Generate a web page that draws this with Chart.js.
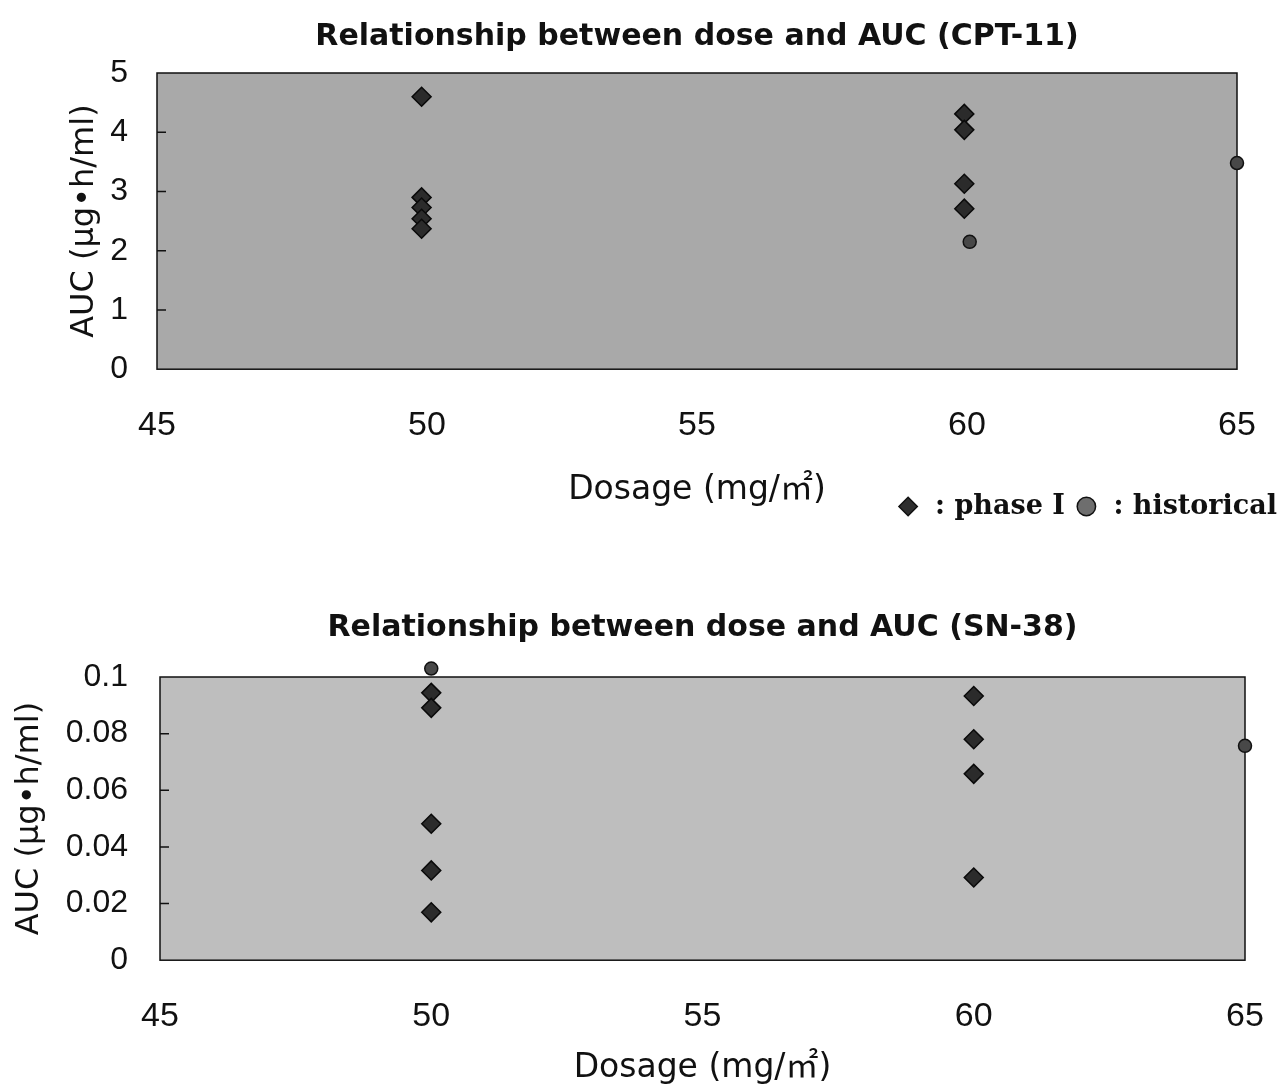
<!DOCTYPE html>
<html>
<head>
<meta charset="utf-8">
<script src="https://cdn.jsdelivr.net/npm/chart.js@4.4.1/dist/chart.umd.min.js"></script>
<style>
  html, body { margin: 0; padding: 0; background: #fff; }
  body { width: 1285px; height: 1085px; position: relative; overflow: hidden; }
  .box { position: absolute; left: 0; width: 1285px; }
</style>
</head>
<body>
<div class="box" style="top:0;height:545px"><canvas id="c1"></canvas></div>
<div class="box" style="top:545px;height:540px"><canvas id="c2"></canvas></div>
<script>
// ---- data ----
const xTicks = [45, 50, 55, 60, 65];
const cptPhaseDose = [49.9, 49.9, 49.9, 49.9, 49.9, 59.95, 59.95, 59.95, 59.95];
const cptPhaseAUC  = [4.6, 2.9, 2.73, 2.54, 2.37, 4.31, 4.04, 3.13, 2.71];
const cptHistDose  = [60.05, 65];
const cptHistAUC   = [2.15, 3.48];
const cptYTicks    = [0, 1, 2, 3, 4, 5];

const snPhaseDose  = [50, 50, 50, 50, 50, 60, 60, 60, 60];
const snPhaseAUC   = [0.0944, 0.0891, 0.0482, 0.0317, 0.0169, 0.0933, 0.078, 0.0658, 0.0292];
const snHistDose   = [50, 65];
const snHistAUC    = [0.103, 0.0757];
const snYTicks     = [0, 0.02, 0.04, 0.06, 0.08, 0.1];
const snYTickLabels = ['0', '0.02', '0.04', '0.06', '0.08', '0.1'];

const titles = ['Relationship between dose and AUC (CPT-11)', 'Relationship between dose and AUC (SN-38)'];
const yTitle = 'AUC (μg•h/ml)';
const xTitle = 'Dosage (mg/㎡)';
const legendLabels = [': phase Ⅰ', ': historical'];

const toPts = (xs, ys) => xs.map((x, i) => ({ x: x, y: ys[i] }));

const frame = {
  id: 'frame',
  beforeDatasetsDraw(chart) {
    const a = chart.chartArea, ctx = chart.ctx;
    ctx.save();
    ctx.fillStyle = chart.options.plugins.frame.bg;
    ctx.fillRect(a.left, a.top, a.right - a.left, a.bottom - a.top);
    ctx.strokeStyle = '#111';
    ctx.lineWidth = 1.5;
    ctx.strokeRect(a.left, a.top, a.right - a.left, a.bottom - a.top);
    const ys = chart.scales.y;
    ctx.beginPath();
    ys.ticks.forEach(t => {
      if (t.value <= ys.min || t.value >= ys.max) return;
      const p = ys.getPixelForValue(t.value);
      ctx.moveTo(a.left, p);
      ctx.lineTo(a.left + 9, p);
    });
    ctx.stroke();
    ctx.restore();
  }
};

// let markers that sit just outside the plot frame (as in the original) still be drawn
const overflow = {
  id: 'overflow',
  beforeDatasetDraw(chart) {
    const a = chart.chartArea;
    chart.$saved = { top: a.top, right: a.right };
    a.top -= 30; a.right += 30;
  },
  afterDatasetDraw(chart) {
    const a = chart.chartArea;
    a.top = chart.$saved.top; a.right = chart.$saved.right;
  }
};

function makeChart(id, o) {
  return new Chart(document.getElementById(id), {
    type: 'scatter',
    data: {
      datasets: [
        { label: legendLabels[0], data: toPts(o.pd, o.pa), pointStyle: 'rectRot', pointRadius: 9.5,
          backgroundColor: '#2b2b2b', borderColor: '#0a0a0a', borderWidth: 1.5, clip: false },
        { label: legendLabels[1], data: toPts(o.hd, o.ha), pointStyle: 'circle', pointRadius: 6.5,
          backgroundColor: '#484848', borderColor: '#111', borderWidth: 1.5, clip: false }
      ]
    },
    options: {
      responsive: true,
      maintainAspectRatio: false,
      animation: false,
      layout: { padding: { bottom: o.padBottom, left: 0, right: 0, top: 0 } },
      scales: {
        x: {
          type: 'linear', min: 45, max: 65,
          afterBuildTicks: s => { s.ticks = xTicks.map(v => ({ value: v })); },
          afterFit: s => { s.paddingRight = 0; s.paddingLeft = 0; },
          grid: { display: false, drawTicks: false },
          border: { display: false },
          ticks: { padding: 36, color: '#111', font: { family: 'Liberation Sans', size: 34 }, maxRotation: 0 },
          title: { display: true, text: xTitle, color: '#111',
                   font: { family: 'DejaVu Sans, Noto Sans CJK JP', size: 33, lineHeight: 1 },
                   padding: { top: o.xTitlePadTop, bottom: o.xTitlePadBottom } }
        },
        y: {
          type: 'linear', min: 0, max: o.ymax,
          afterBuildTicks: s => { s.ticks = o.yt.map(v => ({ value: v })); },
          afterFit: s => { s.width = o.left; },
          grid: { display: false, drawTicks: false },
          border: { display: false },
          ticks: { padding: o.yPad, color: '#111', font: { family: 'Liberation Sans', size: 32 },
                   callback: (v, i) => o.ytl[i] },
          title: { display: true, text: yTitle, color: '#111',
                   font: { family: 'DejaVu Sans', size: 32, lineHeight: 1 },
                   padding: { top: o.yTitlePad, bottom: 0 } }
        },
        yr: {
          type: 'linear', position: 'right', display: true,
          afterFit: s => { s.width = o.right; },
          grid: { display: false, drawTicks: false },
          border: { display: false },
          ticks: { display: false }
        }
      },
      plugins: {
        frame: { bg: o.bg },
        title: { display: true, text: o.title, color: '#111', fullSize: false,
                 font: { family: 'DejaVu Sans', size: 30, weight: 'bold', lineHeight: 1.2 },
                 padding: o.titlePad },
        legend: o.legend ? {
          display: true, position: 'bottom', align: 'end',
          labels: { usePointStyle: true, color: '#111', padding: 8, boxHeight: 13,
                    font: { family: 'DejaVu Serif', size: 27, weight: 'bold' },
                    generateLabels: chart => chart.data.datasets.map((d, i) => ({
                      text: d.label, pointStyle: d.pointStyle, datasetIndex: i,
                      fillStyle: i === 0 ? '#2e2e2e' : '#6e6e6e', strokeStyle: '#111', lineWidth: 1.5,
                      fontColor: '#111', hidden: false
                    })) }
        } : { display: false },
        tooltip: { enabled: false }
      }
    },
    plugins: [frame, overflow]
  });
}

makeChart('c1', {
  pd: cptPhaseDose, pa: cptPhaseAUC, hd: cptHistDose, ha: cptHistAUC, yt: cptYTicks,
  ytl: cptYTicks.map(String), ymax: 5,
  title: titles[0], titlePad: { top: 19, bottom: 18 }, left: 157, right: 48, yPad: 29, yTitlePad: 69,
  xTitlePadTop: -8.4, xTitlePadBottom: -21.6, legend: true, padBottom: 15, bg: '#a9a9a9'
});
makeChart('c2', {
  pd: snPhaseDose, pa: snPhaseAUC, hd: snHistDose, ha: snHistAUC, yt: snYTicks,
  ytl: snYTickLabels, ymax: 0.1,
  title: titles[1], titlePad: { top: 65, bottom: 31 }, left: 160, right: 40, yPad: 32, yTitlePad: 14,
  xTitlePadTop: -21, xTitlePadBottom: 0, legend: false, padBottom: 0, bg: '#bebebe'
});
</script>
</body>
</html>
